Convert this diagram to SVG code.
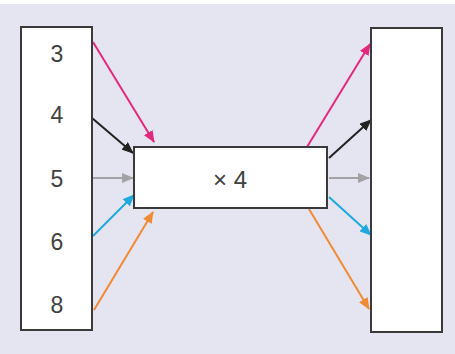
<svg xmlns="http://www.w3.org/2000/svg" width="455" height="354" viewBox="0 0 455 354">
<defs>
<style>
.box{fill:#ffffff;stroke:#3a3a3a;stroke-width:2}
.num{font-family:"Liberation Sans",Arial,sans-serif;font-size:23px;fill:#404040;text-anchor:middle}
.ln{stroke-width:2;fill:none}
</style>
<marker id="ap" viewBox="0 0 12 10" refX="11" refY="5" markerWidth="12" markerHeight="10" markerUnits="userSpaceOnUse" orient="auto"><path d="M0,0 L12,5 L0,10 Z" fill="#e4287f"/></marker>
<marker id="ak" viewBox="0 0 12 10" refX="11" refY="5" markerWidth="12" markerHeight="10" markerUnits="userSpaceOnUse" orient="auto"><path d="M0,0 L12,5 L0,10 Z" fill="#222222"/></marker>
<marker id="ag" viewBox="0 0 12 10" refX="11" refY="5" markerWidth="12" markerHeight="10" markerUnits="userSpaceOnUse" orient="auto"><path d="M0,0 L12,5 L0,10 Z" fill="#a3a3a6"/></marker>
<marker id="ab" viewBox="0 0 12 10" refX="11" refY="5" markerWidth="12" markerHeight="10" markerUnits="userSpaceOnUse" orient="auto"><path d="M0,0 L12,5 L0,10 Z" fill="#1ea9e1"/></marker>
<marker id="ao" viewBox="0 0 12 10" refX="11" refY="5" markerWidth="12" markerHeight="10" markerUnits="userSpaceOnUse" orient="auto"><path d="M0,0 L12,5 L0,10 Z" fill="#f08a33"/></marker>
</defs>
<rect x="0" y="0" width="455" height="354" fill="#ffffff"/>
<rect x="0" y="4" width="455" height="350" fill="#e5e4f1"/>
<g id="connectors">
<line class="ln" x1="93" y1="42" x2="154" y2="142" stroke="#e4287f" marker-end="url(#ap)"/>
<line class="ln" x1="92" y1="118" x2="133" y2="153" stroke="#222222" marker-end="url(#ak)"/>
<line class="ln" x1="93" y1="178" x2="133" y2="178" stroke="#a3a3a6" marker-end="url(#ag)"/>
<line class="ln" x1="93" y1="236" x2="134" y2="195" stroke="#1ea9e1" marker-end="url(#ab)"/>
<line class="ln" x1="94" y1="310" x2="153" y2="212" stroke="#f08a33" marker-end="url(#ao)"/>
<line class="ln" x1="307" y1="147" x2="370" y2="44" stroke="#e4287f" marker-end="url(#ap)"/>
<line class="ln" x1="329" y1="158" x2="371" y2="120" stroke="#222222" marker-end="url(#ak)"/>
<line class="ln" x1="329" y1="178" x2="369" y2="178" stroke="#a3a3a6" marker-end="url(#ag)"/>
<line class="ln" x1="329" y1="197" x2="371" y2="235" stroke="#1ea9e1" marker-end="url(#ab)"/>
<line class="ln" x1="309" y1="209" x2="369" y2="309" stroke="#f08a33" marker-end="url(#ao)"/>
</g>
<g id="input">
<rect class="box" x="21" y="27" width="71" height="303"/>
<text class="num" x="57" y="62">3</text>
<text class="num" x="57" y="123">4</text>
<text class="num" x="57" y="187">5</text>
<text class="num" x="57" y="250">6</text>
<text class="num" x="57" y="313">8</text>
</g>
<g id="function">
<rect class="box" x="134" y="147" width="193" height="61"/>
<text class="num" x="230" y="188" style="font-size:24px">× 4</text>
</g>
<g id="output">
<rect class="box" x="371" y="28" width="71" height="304"/>
</g>
</svg>
